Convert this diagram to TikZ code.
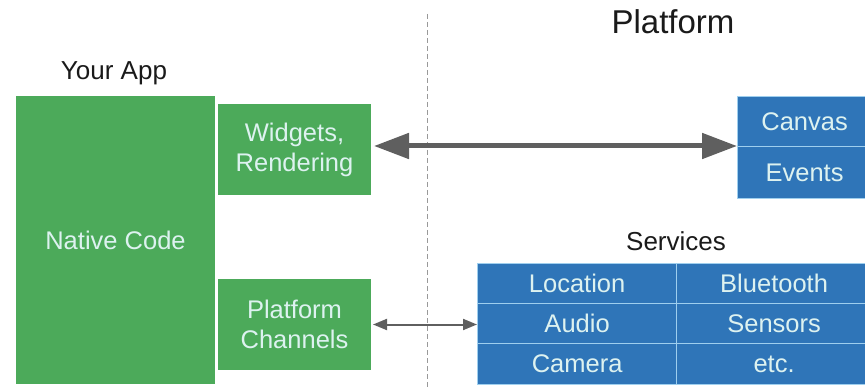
\documentclass[tikz,border=0pt]{standalone}
\usepackage{fontspec}
\setmainfont{Liberation Sans}
\usetikzlibrary{arrows.meta}
\definecolor{appgreen}{HTML}{4CAA5A}
\definecolor{platblue}{HTML}{2F75B8}
\definecolor{celledge}{HTML}{9FCFEE}
\definecolor{boxtext}{HTML}{DDF2F0}
\definecolor{arrowgray}{HTML}{5F5F5F}
\definecolor{labeltext}{HTML}{1A1A1A}
\tikzset{
  greenbox/.style={rectangle, fill=appgreen, draw=white, line width=1pt,
    anchor=north west, inner sep=0pt, text=boxtext, align=center,
    font=\fontsize{25.5}{30}\selectfont},
  bluecell/.style={rectangle, fill=platblue, draw=celledge, line width=1.2pt,
    anchor=north west, inner sep=0pt, text=boxtext, align=center,
    font=\fontsize{25.5}{30}\selectfont},
  heading/.style={text=labeltext, inner sep=0pt, font=\fontsize{26}{30}\selectfont},
  bigarrow/.style={draw=arrowgray, line width=5pt,
    {Triangle[length=35pt,width=25pt]}-{Triangle[length=35pt,width=25pt]}},
  smallarrow/.style={draw=arrowgray, line width=2pt,
    {Triangle[length=14pt,width=11pt]}-{Triangle[length=14pt,width=11pt]}},
  divider/.style={draw=gray!80, line width=0.9pt, dash pattern=on 5pt off 3pt}
}
\begin{document}
\begin{tikzpicture}[x=1pt,y=-1pt]
\useasboundingbox (0,0) rectangle (865,390);

% headings
\node[heading] (yourapp) at (114,73) {Your App};
\node[heading, font=\fontsize{33}{36}\selectfont] (platform) at (673,22) {Platform};
\node[heading] (services) at (676,241) {Services};

% app side
\node[greenbox, minimum width=200pt, minimum height=289pt] (native) at (15,95) {Native Code};
\node[greenbox, minimum width=154pt, minimum height=92pt] (widgets) at (217,103) {Widgets,\\Rendering};
\node[greenbox, minimum width=154pt, minimum height=92pt] (channels) at (217,278) {Platform\\Channels};

% boundary between app and platform
\coordinate (divtop) at (427,14);
\coordinate (divbot) at (427,390);
\draw[divider] (divtop) -- (divbot);

% platform drawing surface
\node[bluecell, minimum width=134pt, minimum height=50pt] (canvas) at (737,96) {Canvas};
\node[bluecell, minimum width=134pt, minimum height=52pt] (events) at (737,146) {Events};

% platform services
\node[bluecell, minimum width=199pt, minimum height=40pt] (location) at (477,263) {Location};
\node[bluecell, minimum width=195pt, minimum height=40pt] (bluetooth) at (676,263) {Bluetooth};
\node[bluecell, minimum width=199pt, minimum height=40pt] (audio) at (477,303) {Audio};
\node[bluecell, minimum width=195pt, minimum height=40pt] (sensors) at (676,303) {Sensors};
\node[bluecell, minimum width=199pt, minimum height=41pt] (camera) at (477,343) {Camera};
\node[bluecell, minimum width=195pt, minimum height=41pt] (etc) at (676,343) {etc.};

% connectors
\draw[bigarrow] (widgets.east |- events.north west) ++(2pt,0) -- (events.north west);
\draw[smallarrow] (channels.east) ++(1pt,0) -- (channels.east -| audio.west);
\end{tikzpicture}
\end{document}
